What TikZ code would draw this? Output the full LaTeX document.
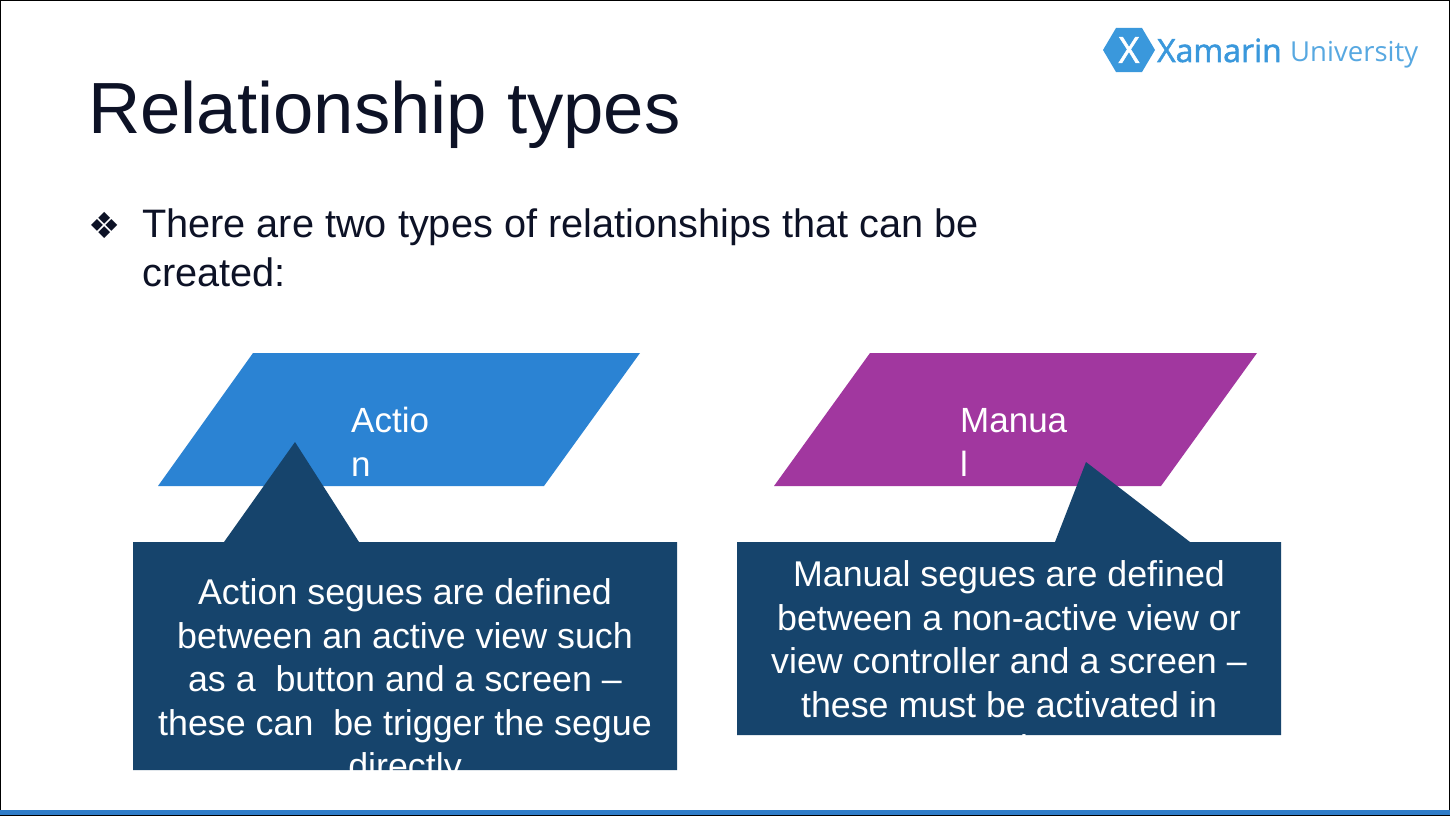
\documentclass[tikz,border=0pt]{standalone}
\usepackage{fontspec}
\setmainfont{Liberation Sans}
\newfontfamily\djfont{DejaVu Sans}
\newfontfamily\logof{Open Sans}
\newfontfamily\logob[FakeBold=1.6]{Open Sans}
\definecolor{titlec}{HTML}{0D1226}
\definecolor{ablue}{HTML}{2B83D3}
\definecolor{mpurple}{HTML}{A1379F}
\definecolor{navy}{HTML}{16446C}
\definecolor{logoc}{HTML}{3A98DC}
\definecolor{barc}{HTML}{2F7CC8}
\tikzset{
 txt/.style={inner sep=0pt,anchor=base west,text=titlec},
 wtxt/.style={inner sep=0pt,anchor=base,text=white,font=\fontsize{35.8}{36}\selectfont},
 blab/.style={inner sep=0pt,anchor=base west,text=white,font=\fontsize{35}{36}\selectfont},
}
\begin{document}
\begin{tikzpicture}[x=1pt,y=-1pt]
\useasboundingbox (0,0) rectangle (1450,816);
\fill[white] (0,0) rectangle (1450,816);
\draw[black,line width=2pt] (0,0) -- (1450,0);
\draw[black,line width=2pt] (0,0) -- (0,816);
\draw[black,line width=2pt] (1450,0) -- (1450,816);
\fill[barc] (0,810) rectangle (1450,815);
\fill[black] (0,815) rectangle (1450,816);
% logo
\fill[logoc] (1103,50) -- (1116,28) -- (1142,28) -- (1155,50) -- (1142,72) -- (1116,72) -- cycle;
\node[inner sep=0pt,text=white,font=\logob\fontsize{36}{37}\selectfont] (lx) at (1129,50) {X};
\node[inner sep=0pt,anchor=base west,text=logoc,font=\logob\fontsize{32}{32}\selectfont] (l1) at (1157,62) {Xamarin};
\node[inner sep=0pt,anchor=base west,text=logoc!85,font=\logof\fontsize{27.5}{28}\selectfont] (l2) at (1290,62) {University};
% title
\node[txt,font=\fontsize{72.5}{72}\selectfont] (title) at (88,133) {Relationship types};
\node[inner sep=0pt,text=titlec,font=\djfont\fontsize{36}{36}\selectfont] (bul) at (105,225) {❖};
\node[txt,font=\fontsize{39.7}{40}\selectfont] (b1) at (142,237) {There are two types of relationships that can be};
\node[txt,font=\fontsize{39.7}{40}\selectfont] (b2) at (142,286) {created:};
% parallelograms
\fill[ablue] (253,353) -- (640,353) -- (544,486) -- (158,486) -- cycle;
\fill[mpurple] (870,353) -- (1257,353) -- (1161,486) -- (774,486) -- cycle;
\node[blab] (a1) at (351,432) {Actio};
\node[blab] (a2) at (351,476) {n};
\node[blab] (m1) at (960,432) {Manua};
\node[blab] (m2) at (960,476) {l};
% callouts
\fill[navy] (133,542) -- (224,542) -- (295,442) -- (359,542) -- (677,542) -- (677,770) -- (133,770) -- cycle;
\fill[navy] (737,542) -- (1055,542) -- (1086,462) -- (1190,542) -- (1281,542) -- (1281,735) -- (737,735) -- cycle;
\begin{scope}
\clip (133,542) rectangle (677,770);
\node[wtxt] (l1a) at (405,604) {Action segues are defined};
\node[wtxt] (l1b) at (405,648) {between an active view such};
\node[wtxt] (l1c) at (405,691) {as a\ \ button and a screen –};
\node[wtxt] (l1d) at (405,735) {these can\ \ be trigger the segue};
\node[wtxt] (l1e) at (405,778) {directly};
\end{scope}
\begin{scope}
\clip (737,542) rectangle (1281,735);
\node[wtxt] (r1a) at (1009,586) {Manual segues are defined};
\node[wtxt] (r1b) at (1009,630) {between a non-active view or};
\node[wtxt] (r1c) at (1009,673) {view controller and a screen –};
\node[wtxt] (r1d) at (1009,717) {these must be activated in};
\node[wtxt] (r1e) at (1009,760) {code};
\end{scope}
\end{tikzpicture}
\end{document}
